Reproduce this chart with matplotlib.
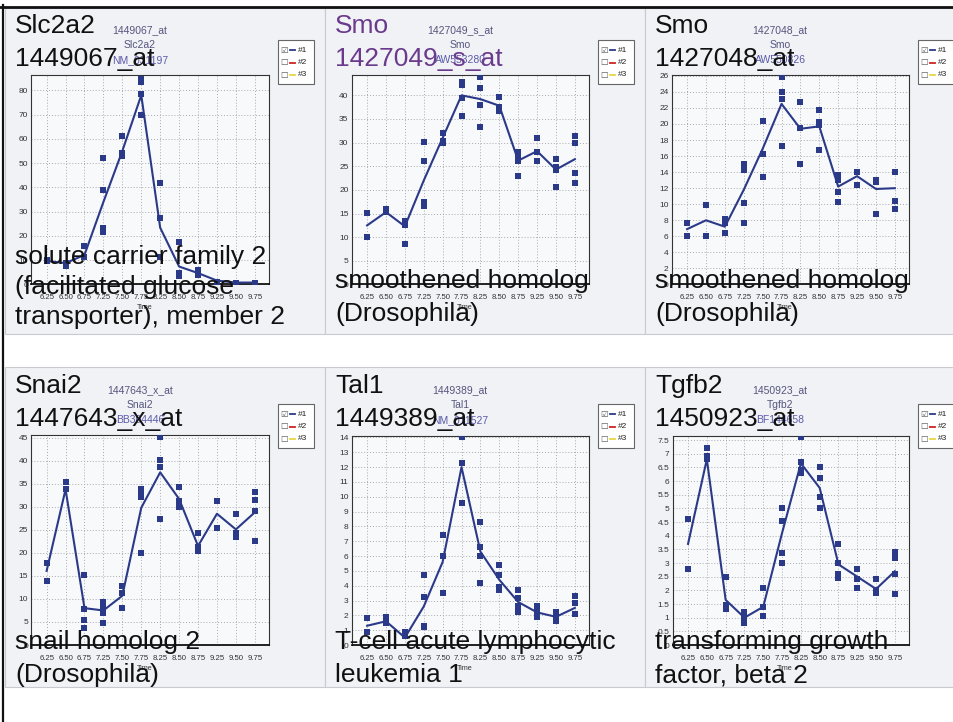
import matplotlib
matplotlib.use('Agg')
import matplotlib.pyplot as plt
from matplotlib.patches import Rectangle
from matplotlib.lines import Line2D

# ---------------- data ----------------
time_labels = ['6.25', '6.50', '6.75', '7.25', '7.50', '7.75',
               '8.25', '8.50', '8.75', '9.25', '9.50', '9.75']

slc2a2_reps = [[10, 9.7], [7.8, 8.8], [16, 11.5], [52, 39, 23.4, 21.8], [61, 54, 53],
               [84.8, 83.4, 78.6, 69.7], [42, 27.3, 11.5], [17.7, 4.7, 3.3], [5.8, 4],
               [1.2, 0.8], [0.8, 0.6], [0.8, 0.6]]
slc2a2_line = [9.7, 8.8, 12.2, 34, 55, 78, 23.4, 7.4, 4.7, 1.6, 0.8, 0.8]
slc2a2_yticks = [0, 10, 20, 30, 40, 50, 60, 70, 80]

smo1_reps = [[15.1, 10.0], [15.9, 15.4], [13.5, 12.6, 8.5], [30.2, 26.1, 17.4, 16.7],
             [32.1, 30.4, 29.9], [42.9, 42.2, 39.4, 35.7], [43.9, 41.5, 38.0, 33.2],
             [39.6, 37.5, 36.7], [28.1, 27.2, 26.1, 23.0], [30.9, 28.1, 26.1],
             [26.5, 24.9, 24.2, 20.7], [31.4, 29.9, 23.5, 21.4]]
smo1_line = [12.5, 15.3, 12.3, 22.0, 31.0, 40.0, 39.2, 37.8, 26.2, 28.2, 24.3, 26.5]
smo1_yticks = [0, 5, 10, 15, 20, 25, 30, 35, 40]

smo2_reps = [[7.7, 6.1], [9.9, 6.0], [8.1, 7.7, 6.4], [15.0, 14.3, 10.1, 7.7],
             [20.4, 16.3, 13.4], [25.9, 24.0, 23.1, 17.3], [22.7, 19.5, 15.0],
             [21.7, 20.3, 19.9, 16.8], [13.6, 13.0, 11.5, 10.3], [14.0, 12.4],
             [13.0, 12.8, 8.8], [14.0, 10.4, 9.4]]
smo2_line = [6.9, 8.0, 7.2, 11.8, 16.9, 22.5, 19.4, 19.7, 12.2, 13.5, 11.9, 12.0]
smo2_yticks = [0, 2, 4, 6, 8, 10, 12, 14, 16, 18, 20, 22, 24, 26]

snai2_reps = [[17.9, 14.0], [35.3, 33.8], [15.2, 7.8, 5.4, 3.6], [9.4, 8.3, 7.0, 4.7],
              [12.8, 11.2, 8.1], [33.8, 33.0, 32.2, 19.9], [45.1, 40.2, 38.6, 27.3],
              [34.4, 31.3, 30.4, 29.9], [24.3, 21.2, 20.4], [31.2, 25.4],
              [28.4, 24.3, 23.4], [33.2, 31.5, 29.0, 22.5]]
snai2_line = [16.1, 33.8, 8.0, 7.5, 10.7, 29.8, 37.5, 31.7, 21.5, 28.5, 25.1, 28.8]
snai2_yticks = [0, 5, 10, 15, 20, 25, 30, 35, 40, 45]

tal1_reps = [[1.8, 0.85], [1.9, 1.5], [0.85, 0.6], [4.7, 3.25, 1.3, 1.2], [7.4, 6.0, 3.5],
             [14.0, 12.3, 9.6], [8.3, 6.6, 6.0, 4.2], [5.4, 4.7, 3.9, 3.7],
             [3.7, 3.2, 2.6, 2.2], [2.6, 2.3, 1.9], [2.2, 1.9, 1.6], [3.3, 2.8, 2.1]]
tal1_line = [1.3, 1.6, 0.5, 2.6, 5.6, 12.0, 6.3, 4.4, 2.9, 2.2, 1.9, 2.5]
tal1_yticks = [0, 1, 2, 3, 4, 5, 6, 7, 8, 9, 10, 11, 12, 13, 14]

tgfb2_reps = [[4.6, 2.8], [7.2, 6.9, 6.8], [2.5, 1.45, 1.3], [1.2, 1.0, 0.8],
              [2.1, 1.4, 1.05], [5.0, 4.55, 3.35, 3.0], [7.6, 6.7, 6.4, 6.3],
              [6.5, 6.1, 5.4, 5.0], [3.7, 3.0, 2.6, 2.45], [2.8, 2.4, 2.1],
              [2.4, 2.0, 1.9], [3.4, 3.2, 2.6, 1.85]]
tgfb2_line = [3.7, 6.8, 1.65, 1.0, 1.4, 4.1, 6.65, 5.75, 2.95, 2.5, 2.05, 2.7]
tgfb2_yticks = [0, 0.5, 1, 1.5, 2, 2.5, 3, 3.5, 4, 4.5, 5, 5.5, 6, 6.5, 7, 7.5]

gene_symbols = ['Slc2a2', 'Smo', 'Smo', 'Snai2', 'Tal1', 'Tgfb2']
probe_ids = ['1449067_at', '1427049_s_at', '1427048_at', '1447643_x_at', '1449389_at', '1450923_at']
accessions = ['NM_031197', 'AW553280', 'AW550826', 'BB304446', 'NM_011527', 'BF144658']
descriptions = [['solute carrier family 2', '(facilitated glucose', 'transporter), member 2'],
                ['smoothened homolog', '(Drosophila)'],
                ['smoothened homolog', '(Drosophila)'],
                ['snail homolog 2', '(Drosophila)'],
                ['T-cell acute lymphocytic', 'leukemia 1'],
                ['transforming growth', 'factor, beta 2']]
legend_labels = ['#1', '#2', '#3']

# ---------------- layout ----------------
W, H = 954, 722
fig = plt.figure(figsize=(W / 100, H / 100), dpi=100)
fig.patch.set_facecolor('white')


def fx(x):
    return x / W


def fy(y):
    return 1 - y / H


NAVY = '#2b3a88'
SMALL = '#55557e'
BIG = 'Liberation Sans'

# panel cell backgrounds
for (x0, x1) in [(5, 325), (325, 645), (645, 960)]:
    for (y0, y1) in [(8, 334), (367, 687)]:
        fig.add_artist(Rectangle((fx(x0), fy(y1)), (x1 - x0) / W, (y1 - y0) / H,
                                 transform=fig.transFigure, facecolor='#f1f2f6',
                                 edgecolor='#c9cacf', lw=0.8, zorder=-5))

# frame lines
fig.add_artist(Line2D([0, 1], [fy(6.5), fy(6.5)], color='#111111', lw=2.0, zorder=-4))
fig.add_artist(Line2D([fx(3.5), fx(3.5)], [fy(5), 0], color='#111111', lw=1.6, zorder=-4))

panels = [
    (slc2a2_reps, slc2a2_line, slc2a2_yticks, 86.3, (31.5, 75, 269, 284.5)),
    (smo1_reps, smo1_line, smo1_yticks, 44.3, (352, 75, 589, 284.5)),
    (smo2_reps, smo2_line, smo2_yticks, 26.1, (672, 75, 909, 284.5)),
    (snai2_reps, snai2_line, snai2_yticks, 45.6, (31.5, 435, 269, 645)),
    (tal1_reps, tal1_line, tal1_yticks, 14.1, (352, 436, 589, 645)),
    (tgfb2_reps, tgfb2_line, tgfb2_yticks, 7.65, (673, 436, 909, 645)),
]

for idx, (reps, line, yticks, ytop, (x0, y0, x1, y1)) in enumerate(panels):
    ax = fig.add_axes([fx(x0), fy(y1), (x1 - x0) / W, (y1 - y0) / H])
    ax.set_facecolor('#f8f9fb')
    for i, vals in enumerate(reps):
        ax.scatter([i] * len(vals), vals, marker='s', s=14, color=NAVY,
                   linewidths=0, zorder=3)
    ax.plot(range(len(line)), line, color=NAVY, lw=1.5, zorder=4)
    ax.set_xlim(-0.8, 11.75)
    ax.set_ylim(0, ytop)
    ax.set_xticks(range(len(time_labels)))
    ax.set_xticklabels(time_labels, fontsize=5.6, color='#333333', family=BIG)
    ax.set_yticks(yticks)
    ax.set_yticklabels([f'{t:g}' for t in yticks], fontsize=6, color='#333333', family=BIG)
    ax.tick_params(axis='x', length=0, pad=7)
    ax.tick_params(axis='y', length=0, pad=2.5)
    ax.grid(True, linestyle=(0, (1, 2)), color='#a9a9b0', lw=0.7)
    ax.set_axisbelow(True)
    for sp in ax.spines.values():
        sp.set_color('#333333')
        sp.set_linewidth(0.8)
    ax.spines['bottom'].set_color('#111111')
    ax.spines['bottom'].set_linewidth(1.3)

    col = idx % 3
    row = idx // 3
    left = [15, 335, 655][col]
    cx = [140, 460, 780][col]
    top_off = 0 if row == 0 else 360
    big_color = '#6a3a8c' if idx == 1 else '#111111'

    # small header of the original chart
    fig.text(fx(cx), fy(30 + top_off), probe_ids[idx], fontsize=7.5, color=SMALL,
             ha='center', va='center', family=BIG)
    fig.text(fx(cx), fy(45 + top_off), gene_symbols[idx], fontsize=7.5, color=SMALL,
             ha='center', va='center', family=BIG)
    fig.text(fx(cx), fy(60 + top_off), accessions[idx], fontsize=7.5, color='#5a5aa8',
             ha='center', va='center', family=BIG)
    # axis title
    fig.text(fx(cx + 5), fy(308 + top_off), 'Time', fontsize=5.2, color='#333333',
             ha='center', va='center', family=BIG)

    # big overlay text
    fig.text(fx(left), fy(33 + top_off), gene_symbols[idx], fontsize=19,
             color=big_color, family=BIG, va='baseline', ha='left', zorder=10)
    fig.text(fx(left), fy(66 + top_off), probe_ids[idx], fontsize=19,
             color=big_color, family=BIG, va='baseline', ha='left', zorder=10)
    desc = descriptions[idx]
    if len(desc) == 3:
        bases = [264, 294, 324]
    elif row == 0:
        bases = [288, 321]
    else:
        bases = [289, 322]
    for txt, b in zip(desc, bases):
        fig.text(fx(left), fy(b + top_off), txt, fontsize=19, color='#111111',
                 family=BIG, va='baseline', ha='left', zorder=10)

    # legend box
    lx = [278, 598, 918][col]
    ly = 40 if row == 0 else 404
    fig.add_artist(Rectangle((fx(lx), fy(ly + 44)), 36 / W, 44 / H,
                             transform=fig.transFigure, facecolor='white',
                             edgecolor='#666666', lw=0.8, zorder=2))
    for k, (lbl, c) in enumerate(zip(legend_labels, [NAVY, '#d02020', '#e8d840'])):
        yy = ly + 10 + 12.5 * k
        fig.text(fx(lx + 2), fy(yy), '\u2611' if k == 0 else '\u2610', fontsize=6,
                 va='center', ha='left', family='DejaVu Sans', color='#555555', zorder=3)
        fig.add_artist(Line2D([fx(lx + 12), fx(lx + 17)], [fy(yy), fy(yy)], color=c,
                              lw=1.3, zorder=3))
        fig.text(fx(lx + 20), fy(yy), lbl, fontsize=6, va='center', ha='left',
                 family=BIG, color='#222222', zorder=3)

fig.savefig('out.png', dpi=100)
